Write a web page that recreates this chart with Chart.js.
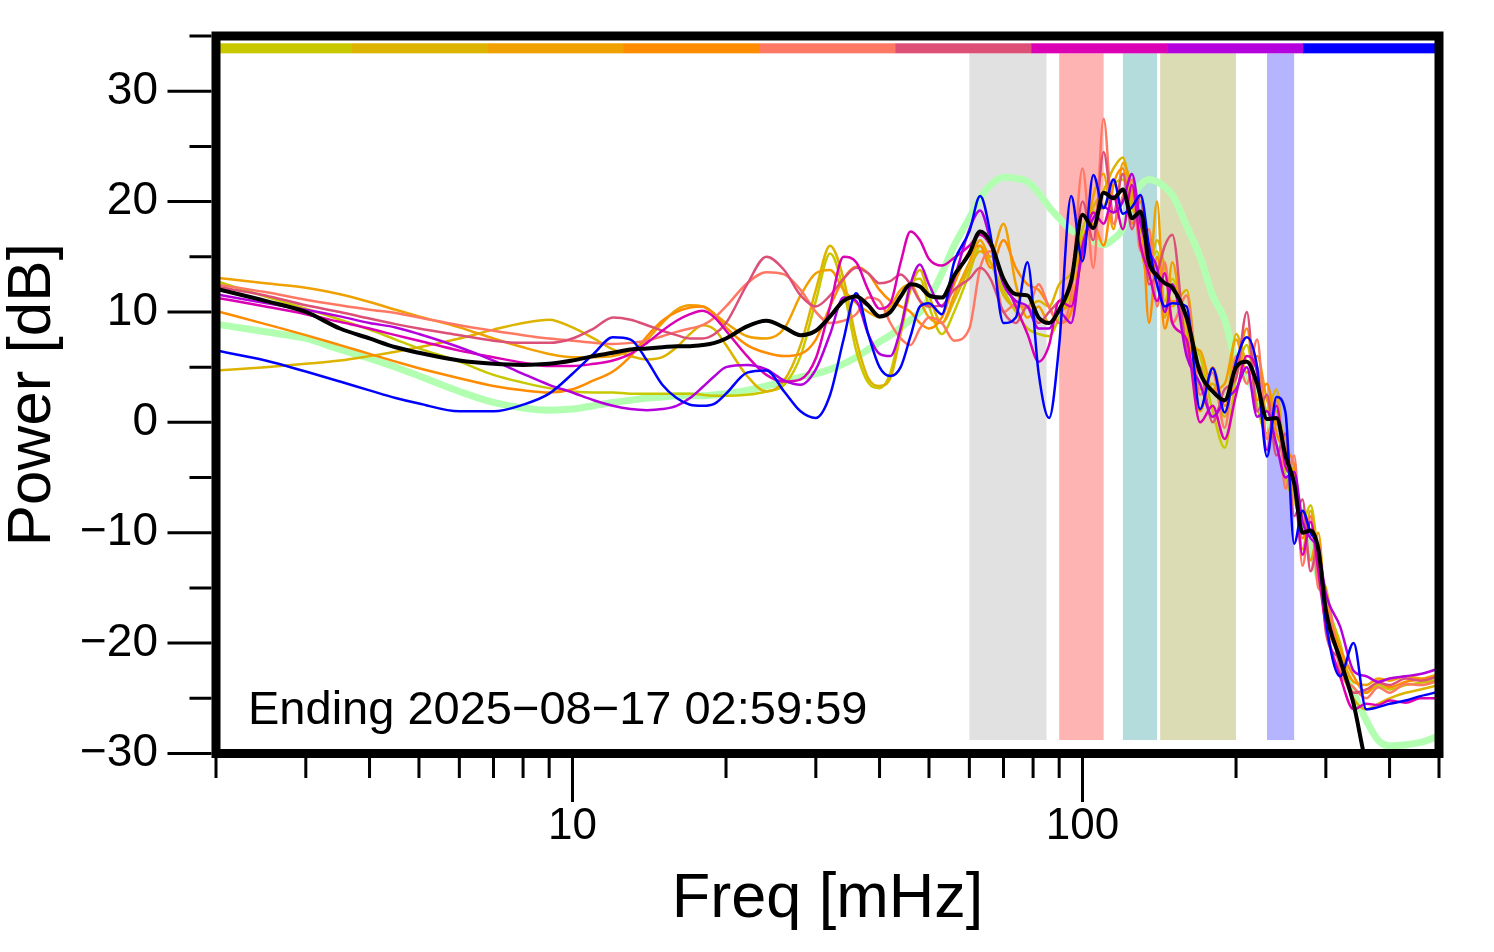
<!DOCTYPE html>
<html><head><meta charset="utf-8">
<script src="https://cdn.jsdelivr.net/npm/chart.js@4.4.0/dist/chart.umd.min.js"></script>
<style>html,body{margin:0;padding:0;background:#fff;}#wrap{width:1494px;height:952px;position:relative;}</style>
</head><body><div id="wrap"><canvas id="c"></canvas></div>
<script>
const freqs = [2,2.5,3,3.5,4,4.5,5,6,7,8,9,10,11,12,13,14,15,16,17,18,19,20,22,24,26,28,30,32,34,36,38,40,42,44,46,48,50,53,56,60,63,66,70,74,78,82,86,90,95,100,105,110,115,120,125,130,135,140,145,150,160,170,180,190,200,210,220,230,240,250,260,270,280,290,300,320,340,360,380,400,430,460,500];

const meanPower = [12.1,11.0,10.0,8.5,7.6,6.8,6.3,5.6,5.3,5.2,5.3,
 5.6,6.0,6.3,6.6,6.7,6.8,6.9,6.9,7.0,7.2,7.6,
 8.7,9.2,8.6,7.9,8.3,9.6,11.0,11.4,10.6,9.6,10.0,
 11.4,12.5,12.3,11.5,11.3,13.3,15.3,17.3,16.3,13.0,11.6,11.5,9.5,9.0,10.2,
 12.8,18.8,17.6,20.8,20.3,21.1,18.5,19.1,14.5,13.3,12.6,12.2,9.5,4.5,2.8,2.0,5.0,5.5,3.5,0.3,0.4,-3.0,-5.5,-10.0,-9.8,-11.5,-17.0,-21.5,-25.5,-31,-34,-36,-37,-38,-38];

const refPower = [8.9,8.2,7.6,6.6,5.8,5.0,4.2,2.8,1.8,1.3,1.1,
 1.2,1.5,1.8,2.0,2.2,2.3,2.4,2.4,2.4,2.5,2.6,
 2.9,3.3,3.7,4.1,4.4,4.8,5.3,5.9,6.6,7.3,7.9,
 8.6,9.3,10.0,11.2,13.5,16.0,18.5,20.3,21.5,22.2,22.1,21.8,20.8,19.5,18.5,
 17.4,16.9,16.4,16.1,16.6,17.6,20.3,21.5,22.0,21.8,21.3,20.6,17.8,15.0,11.5,9.3,5.5,4.0,2.5,0.5,-1.5,-3.5,-6.0,-9.0,-11.5,-14.0,-16.5,-21.0,-24.5,-27.0,-28.8,-29.3,-29.2,-29.0,-28.4];

const s1 = [12.8,11.4,10.3,9.3,8.4,7.5,6.7,5.5,4.3,3.6,3.1,
 2.8,2.7,2.7,2.6,2.6,2.6,2.6,2.6,2.5,2.4,2.4,
 2.5,2.8,3.4,6.0,11.0,15.3,12.0,6.5,3.6,3.1,4.5,
 8.5,12.5,13.0,10.5,8.0,10.0,13.5,16.0,14.5,12.0,10.0,8.5,8.0,7.8,9.5,
 12.0,17.5,19.0,19.5,21.5,22.0,19.5,17.5,14.5,15.5,11.0,13.0,8.0,6.0,1.0,-2.3,4.0,7.0,1.5,-1.0,1.0,-5.0,-7.0,-9.0,-7.5,-12.0,-16.0,-20.0,-24.5,-24.5,-23.8,-24.2,-23.8,-23.6,-23.3];
const s2 = [4.7,5.0,5.3,5.6,6.0,6.4,6.8,7.6,8.4,9.0,9.3,
 8.6,7.6,6.6,6.0,5.7,5.9,6.8,8.0,8.8,8.4,7.0,
 4.2,2.8,3.8,7.0,12.0,16.0,13.0,7.5,4.0,3.3,4.0,
 8.0,12.0,13.8,11.5,9.0,11.0,14.0,15.5,14.5,11.5,10.5,10.5,11.0,10.5,12.5,
 13.5,16.0,19.5,21.0,23.0,24.0,20.0,17.5,14.0,16.5,14.0,10.5,12.0,3.0,3.5,0.5,8.0,5.5,5.0,1.0,3.0,-3.5,-4.5,-11.5,-8.0,-13.5,-15.0,-22.0,-25.0,-26.0,-25.5,-25.0,-24.5,-24.2,-23.8];
const s3 = [13.1,12.6,12.2,11.6,10.9,10.2,9.6,8.6,7.6,6.8,6.2,
 5.9,5.9,6.0,6.5,7.5,9.0,10.2,10.6,10.5,9.8,9.0,
 7.8,7.6,8.5,11.5,13.5,13.8,12.0,10.8,10.0,9.5,10.5,
 12.0,12.5,11.0,9.5,9.0,11.5,14.5,16.5,15.0,18.0,12.5,9.5,10.5,9.0,10.0,
 11.0,15.0,20.5,22.5,17.5,23.5,21.0,16.0,13.0,20.0,9.5,14.5,7.0,6.5,3.0,3.5,7.5,4.5,6.0,2.0,0.0,-1.5,-6.5,-8.5,-12.5,-10.0,-17.5,-21.0,-23.5,-23.8,-23.2,-23.4,-23.0,-23.2,-22.8];
const s4 = [10.1,8.9,7.9,7.0,6.2,5.5,4.9,4.0,3.3,2.9,2.7,
 3.0,3.8,4.6,6.0,7.8,9.2,10.0,10.4,10.5,9.8,8.6,
 7.0,6.3,6.0,6.2,7.5,10.5,13.0,14.1,13.5,12.0,11.0,
 10.5,10.0,9.0,8.5,9.5,12.5,15.5,16.0,14.0,16.5,14.0,12.5,12.0,10.5,9.0,
 10.0,16.5,18.0,16.0,21.5,23.0,18.0,20.0,9.0,15.0,8.5,11.0,9.0,1.0,5.0,1.5,4.5,8.5,2.0,3.5,-1.0,-2.5,-4.0,-10.5,-8.5,-14.0,-16.5,-20.5,-23.0,-24.5,-23.5,-24.0,-23.5,-23.3,-23.0];
const s5 = [12.5,11.8,11.1,10.6,10.2,9.9,9.5,8.8,8.3,7.9,7.6,
 7.4,7.2,7.1,7.2,7.4,7.8,8.2,8.5,8.8,9.5,10.5,
 12.6,13.6,13.4,12.0,10.0,9.0,9.2,9.8,11.3,11.0,9.0,
 7.6,7.0,8.5,9.5,9.0,7.4,8.5,14.0,15.5,10.0,10.7,10.4,12.5,10.4,9.0,
 11.5,23.0,14.0,27.5,18.0,20.5,22.0,15.5,17.5,10.5,14.5,9.0,11.5,2.5,4.5,-0.5,6.0,3.5,7.5,-1.5,2.0,-6.0,-3.0,-13.0,-8.5,-15.0,-15.5,-22.5,-24.0,-25.0,-24.0,-24.5,-23.7,-23.8,-23.4];
const s6 = [12.3,11.5,10.6,10.0,9.4,8.9,8.5,7.9,7.4,7.2,7.2,
 7.6,8.5,9.5,9.3,8.8,8.3,7.9,7.6,7.6,8.0,9.0,
 12.5,15.0,13.8,11.5,10.5,11.5,13.0,14.0,13.5,12.6,12.8,
 13.4,12.5,11.0,10.5,10.6,12.0,13.0,14.0,13.0,10.0,9.0,10.5,9.0,10.0,11.0,
 12.5,20.0,16.5,24.5,19.0,22.5,17.5,20.5,12.5,13.5,16.0,17.0,6.5,5.0,0.0,3.0,4.0,10.0,1.0,2.5,-3.0,-1.0,-8.5,-7.0,-13.5,-11.0,-19.0,-21.5,-24.5,-24.2,-23.6,-23.8,-23.2,-23.4,-23.0];
const s7 = [11.3,10.5,9.8,9.1,8.5,7.9,7.4,6.5,5.9,5.4,5.1,
 5.1,5.3,5.6,6.2,7.2,8.3,9.2,9.8,10.1,9.5,8.3,
 6.0,4.3,3.7,3.9,5.8,10.5,15.0,14.5,12.0,10.3,10.8,
 14.5,17.3,16.5,14.8,14.2,14.9,16.0,17.0,16.0,13.0,10.5,8.0,5.5,7.0,11.0,
 10.5,15.5,19.0,18.0,20.5,17.5,21.5,16.0,13.5,11.0,13.5,9.0,7.5,0.0,1.5,-1.5,2.5,6.0,4.5,-2.5,1.5,-4.0,-5.5,-12.0,-9.0,-13.5,-18.5,-23.0,-26.0,-25.5,-25.6,-25.2,-25.4,-25.0,-25.0];
const s8 = [11.6,10.8,10.2,9.6,9.0,8.6,8.0,6.8,5.6,4.4,3.4,
 2.7,2.0,1.5,1.2,1.1,1.2,1.5,2.2,3.2,4.2,5.0,
 5.2,4.8,3.8,3.4,4.8,8.0,11.3,11.0,8.0,6.2,6.0,
 8.5,12.5,14.3,12.5,10.5,13.0,17.5,19.2,16.5,12.5,11.0,10.5,8.5,8.5,10.0,
 9.0,16.0,18.5,19.5,19.0,20.0,22.5,18.0,15.5,14.0,10.0,12.5,6.0,3.5,0.5,2.0,3.0,5.0,0.5,1.0,-2.0,-5.0,-4.5,-9.0,-10.5,-11.5,-15.5,-18.5,-22.5,-23.0,-23.5,-23.2,-23.0,-22.8,-22.3];
const s9 = [6.5,5.6,4.6,3.7,2.9,2.2,1.7,1.0,1.0,1.6,2.6,
 4.4,6.2,7.7,7.5,5.6,3.4,2.2,1.6,1.5,1.7,2.6,
 4.5,4.7,2.8,1.0,0.4,2.5,7.5,11.7,8.0,5.0,4.2,
 5.0,7.8,10.5,10.8,9.8,14.5,17.3,20.5,17.0,9.0,9.5,14.5,4.5,0.4,7.0,
 20.5,14.6,22.4,19.4,22.0,18.9,19.5,20.6,16.0,12.5,10.5,10.8,10.5,1.2,4.9,0.9,5.5,7.7,5.0,-3.1,2.3,0.9,-11.0,-8.0,-10.0,-11.5,-18.0,-23.0,-20.0,-26.0,-25.8,-25.5,-25.2,-24.8,-24.4];

const seriesValues = [s1,s2,s3,s4,s5,s6,s7,s8,s9];
const seriesColors = ['#c8c800','#dcb400','#f0a000','#ff8c00','#ff7864','#dc5078','#dc00b4','#b400dc','#0000ff'];
const meanColor = '#000000';
const refColor = '#b2ffb2';

const bandRanges = [[60,85],[90,110],[120,140],[142,200],[230,260]];
const bandColors = ['#e1e1e1','#ffb4b4','#b4dcdc','#dcdcb4','#b4b4ff'];
const bandTop = 33.43, bandBottom = -28.78;
const colorBarTop = 34.34, colorBarBottom = 33.43;

const xTickValues = [2,3,4,5,6,7,8,9,10,20,30,40,50,60,70,80,90,100,200,300,400,500];
const xLabelValues = [10,100];
const yTickValues = [-30,-20,-10,0,10,20,30];
const yMinorValues = [-30,-25,-20,-15,-10,-5,0,5,10,15,20,25,30,35];
const caption = 'Ending 2025\u221208\u221217 02:59:59';

const FONT = '"Liberation Sans", Arial, Helvetica, sans-serif';
Chart.defaults.font.family = FONT;
Chart.defaults.color = '#000';

const toXY = arr => arr.map((v,i)=>({x:freqs[i], y:v}));

const datasets = [];
datasets.push({data: toXY(meanPower), borderColor: meanColor, borderWidth: 4});
for (let i = seriesValues.length-1; i >= 0; i--) {
  datasets.push({data: toXY(seriesValues[i]), borderColor: seriesColors[i], borderWidth: 2.5});
}
datasets.push({data: toXY(refPower), borderColor: refColor, borderWidth: 7});

const zeroPad = s => { s.paddingTop = 0; s.paddingBottom = 0; s.paddingLeft = 0; s.paddingRight = 0; };

const decor = {
  id: 'decor',
  beforeDatasetsDraw(chart) {
    const {ctx, chartArea: a, scales: {x, y}} = chart;
    ctx.save();
    const yb0 = y.getPixelForValue(bandTop), yb1 = y.getPixelForValue(bandBottom);
    bandRanges.forEach((r, i) => {
      const x0 = x.getPixelForValue(r[0]), x1 = x.getPixelForValue(r[1]);
      ctx.fillStyle = bandColors[i];
      ctx.fillRect(x0, yb0, x1 - x0, yb1 - yb0);
    });
    const cy0 = y.getPixelForValue(colorBarTop), cy1 = y.getPixelForValue(colorBarBottom);
    const n = seriesColors.length, w = a.width / n;
    seriesColors.forEach((c, i) => {
      ctx.fillStyle = c;
      ctx.fillRect(a.left + i * w, cy0, w + 0.5, cy1 - cy0);
    });
    ctx.restore();
  },
  afterDatasetsDraw(chart) {
    const {ctx, chartArea: a, scales: {x, y}} = chart;
    ctx.save();
    ctx.fillStyle = '#000';
    ctx.font = '47px ' + FONT;
    ctx.textBaseline = 'alphabetic';
    ctx.textAlign = 'left';
    ctx.fillText(caption, a.left + 32, a.bottom - 30);
    const fw = 9;
    ctx.strokeStyle = '#000';
    ctx.lineWidth = fw;
    ctx.strokeRect(a.left, a.top, a.width, a.height);
    ctx.lineWidth = 3;
    ctx.beginPath();
    xTickValues.forEach(v => {
      const px = x.getPixelForValue(v);
      const len = xLabelValues.includes(v) ? 44 : 20;
      ctx.moveTo(px, a.bottom + fw/2);
      ctx.lineTo(px, a.bottom + fw/2 + len);
    });
    yMinorValues.forEach(v => {
      const py = y.getPixelForValue(v);
      const len = yTickValues.includes(v) ? 44 : 22;
      ctx.moveTo(a.left - fw/2, py);
      ctx.lineTo(a.left - fw/2 - len, py);
    });
    ctx.stroke();
    ctx.restore();
  }
};

new Chart(document.getElementById('c'), {
  type: 'line',
  data: {datasets},
  options: {
    responsive: true,
    maintainAspectRatio: false,
    animation: false,
    events: [],
    layout: {padding: {left: 0, right: 55, top: 36, bottom: 0}},
    elements: {
      point: {radius: 0},
      line: {cubicInterpolationMode: 'monotone', borderJoinStyle: 'round', borderCapStyle: 'round', fill: false}
    },
    plugins: {legend: {display: false}, tooltip: {enabled: false}},
    scales: {
      x: {
        type: 'logarithmic', min: 2, max: 500,
        grid: {display: false, drawTicks: false, tickLength: 0},
        border: {display: false},
        afterBuildTicks: s => { s.ticks = xTickValues.map(v => ({value: v})); },
        afterFit: s => { s.height = 198.5; zeroPad(s); },
        ticks: {
          autoSkip: false, maxRotation: 0, minRotation: 0, padding: 47,
          font: {size: 44, lineHeight: 1.2},
          callback: v => xLabelValues.includes(v) ? String(v) : ''
        },
        title: {display: true, text: 'Freq [mHz]', font: {size: 63, lineHeight: 1}, padding: {top: 0, bottom: 21}}
      },
      y: {
        type: 'linear', min: -30, max: 35,
        grid: {display: false, drawTicks: false, tickLength: 0},
        border: {display: false},
        afterBuildTicks: s => { s.ticks = yTickValues.map(v => ({value: v})); },
        afterFit: s => { s.width = 216; zeroPad(s); },
        ticks: {
          padding: 58,
          font: {size: 46, lineHeight: 1.2},
          callback: v => v < 0 ? '\u2212' + Math.abs(v) : String(v)
        },
        title: {display: true, text: 'Power [dB]', font: {size: 62, lineHeight: 1}, padding: {top: 2, bottom: 0}}
      }
    }
  },
  plugins: [decor]
});
</script>
</body></html>
